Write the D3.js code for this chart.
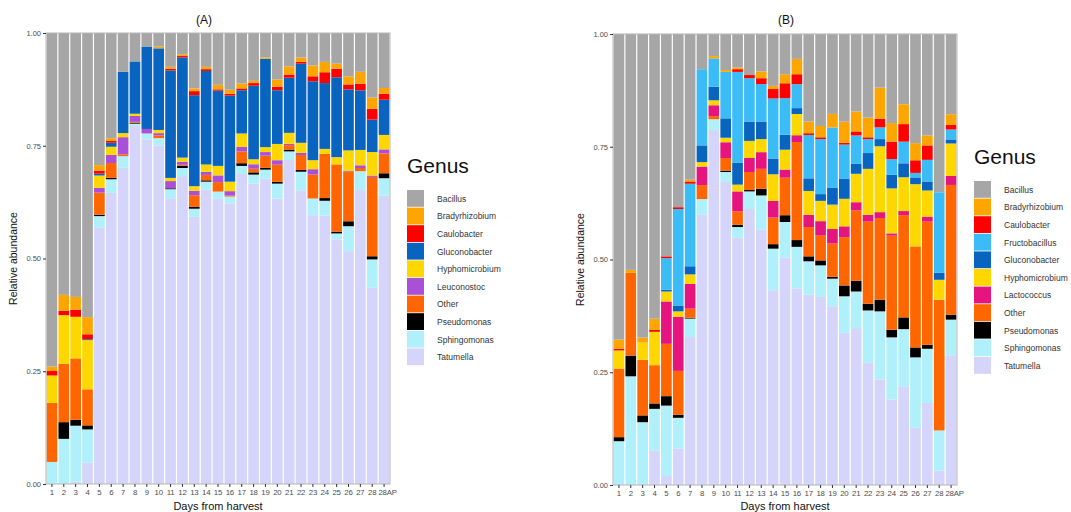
<!DOCTYPE html>
<html>
<head>
<title>Relative abundance by genus</title>
<meta charset="utf-8">
<style type="text/css">
body { margin: 0; background: #fff; font-family: "Liberation Sans", Arial, sans-serif; }
svg text { font-family: "Liberation Sans", Arial, sans-serif; }
.tick text { fill: #4d4d4d; }
.tick line { stroke: #333; }
</style>
</head>
<body>
<svg id="chart"></svg>

<script src="https://d3js.org/d3.v7.min.js"></script>
<script type="text/javascript">
const WIDTH = 1071;
const HEIGHT = 512;

const days = ["1","2","3","4","5","6","7","8","9","10","11","12","13","14","15","16","17","18","19","20",
              "21","22","23","24","25","26","27","28","28AP"];

// panel (A), genera from bottom of the stack to the top
const genusA = ["Tatumella","Sphingomonas","Pseudomonas","Other","Leuconostoc","Hyphomicrobium",
                "Gluconobacter","Caulobacter","Bradyrhizobium","Bacillus"];
const aTatumella      = [0,0,0.005,0.047,0.568,0.645,0.701,0.794,0.765,0.751,0.633,0.682,0.593,0.651,0.633,0.623,0.688,0.666,0.677,0.633,0.717,0.650,0.596,0.595,0.542,0.516,0.651,0.435,0.639];
const aSphingomonas   = [0.049,0.100,0.124,0.074,0.026,0.030,0.026,0.005,0.013,0.016,0.020,0.018,0.018,0.018,0.016,0.015,0.018,0.020,0.020,0.033,0.019,0.041,0.037,0.033,0.013,0.055,0.042,0.063,0.039];
const aPseudomonas    = [0,0.037,0.013,0.009,0.003,0.003,0,0.002,0,0,0.002,0.005,0.004,0.003,0,0,0.006,0.005,0.004,0.004,0.004,0.004,0,0.006,0.004,0.011,0,0.007,0.011];
const aOther          = [0.131,0.129,0.136,0.080,0.049,0.033,0.004,0.002,0,0.006,0,0.002,0.026,0.012,0.021,0.002,0.026,0.008,0.027,0.038,0.010,0.033,0.053,0.098,0.149,0.109,0.007,0.176,0.044];
const aLeuconostoc    = [0,0,0,0,0.011,0.018,0.038,0.013,0.010,0.005,0.016,0.007,0.010,0.007,0.015,0.010,0.010,0.010,0.008,0.010,0.003,0.005,0.012,0,0,0.002,0.006,0.003,0.009];
const aHyphomicrobium = [0.061,0.108,0.092,0.109,0.027,0.018,0.009,0.005,0,0.007,0.007,0.009,0.010,0.016,0.021,0.021,0.030,0.011,0.011,0.036,0.024,0.022,0.020,0.011,0.016,0.046,0.034,0.052,0.032];
const aGluconobacter  = [0,0,0,0.002,0.004,0.009,0.136,0.116,0.183,0.181,0.238,0.222,0.202,0.207,0.167,0.191,0.096,0.163,0.196,0.119,0.122,0.175,0.175,0.146,0.177,0.135,0.132,0.072,0.078];
const aCaulobacter    = [0.010,0.010,0.016,0.011,0.007,0.004,0,0,0,0,0.004,0.003,0.009,0.004,0.003,0.004,0.004,0.006,0,0.008,0.007,0.004,0.011,0.024,0.019,0.011,0.015,0.024,0.013];
const aBradyrhizobium = [0.010,0.035,0.028,0.038,0.012,0.006,0,0,0,0.004,0.004,0.004,0.006,0.005,0.010,0.009,0.011,0.005,0.003,0.016,0.018,0.010,0.024,0.023,0.011,0.018,0.026,0.025,0.013];
const aBacillus       = [0.741,0.580,0.584,0.630,0.293,0.233,0.086,0.063,0.030,0.030,0.075,0.047,0.123,0.075,0.115,0.126,0.112,0.106,0.054,0.103,0.074,0.054,0.072,0.064,0.068,0.096,0.086,0.143,0.122];

// panel (B)
const genusB = ["Tatumella","Sphingomonas","Pseudomonas","Other","Lactococcus","Hyphomicrobium",
                "Gluconobacter","Fructobacillus","Caulobacter","Bradyrhizobium","Bacillus"];
const bTatumella      = [0,0,0,0.077,0.020,0.081,0.328,0.599,0.787,0.672,0.548,0.612,0.566,0.432,0.503,0.435,0.422,0.417,0.396,0.337,0.348,0.271,0.234,0.190,0.219,0.127,0.182,0.032,0.288];
const bSphingomonas   = [0.097,0.241,0.139,0.092,0.156,0.068,0.041,0.035,0.024,0.022,0.024,0.039,0.076,0.092,0.079,0.092,0.074,0.070,0.061,0.081,0.081,0.116,0.151,0.138,0.127,0.156,0.120,0.089,0.079];
const bPseudomonas    = [0.009,0.046,0.015,0.012,0.021,0.007,0.002,0,0,0.003,0.005,0.003,0.015,0.010,0.015,0.015,0.011,0.011,0.004,0.024,0.024,0.015,0.026,0.017,0.026,0.022,0.009,0,0.011];
const bOther          = [0.152,0.184,0.123,0.085,0.116,0.097,0.020,0.031,0.007,0.028,0.030,0.040,0.044,0.059,0.083,0.217,0.065,0.055,0.074,0.107,0.156,0.182,0.181,0.209,0.227,0.224,0.273,0.290,0.288];
const bLactococcus    = [0,0,0,0,0.094,0.120,0.055,0.041,0.024,0.035,0.044,0.031,0.037,0.037,0.018,0.015,0.027,0.032,0.032,0.024,0.018,0.015,0.013,0.005,0.009,0,0.011,0,0.020];
const bHyphomicrobium = [0.040,0,0.038,0.074,0.022,0.012,0.021,0.010,0.011,0.010,0.015,0.038,0.029,0.059,0.044,0.047,0.053,0.045,0.054,0.061,0.063,0.102,0.146,0.100,0.075,0.138,0.058,0.044,0.072];
const bGluconobacter  = [0,0,0,0,0.004,0.013,0.018,0.037,0.030,0.043,0.049,0.043,0.039,0.035,0.033,0.013,0.028,0.015,0.037,0.044,0.022,0.035,0.016,0.030,0.031,0.015,0.020,0.016,0.009];
const bFructobacillus = [0,0,0,0,0.070,0.214,0.183,0.169,0.063,0.103,0.201,0.096,0.083,0.133,0.081,0.053,0.096,0.122,0.134,0.076,0.063,0.031,0.026,0.035,0.048,0.010,0.048,0.178,0.022];
const bCaulobacter    = [0.004,0,0,0.004,0.004,0.004,0.005,0,0,0,0.006,0.007,0.013,0.021,0.033,0.022,0.004,0.004,0,0.004,0.009,0.004,0.019,0.039,0.039,0.028,0.032,0,0.010];
const bBradyrhizobium = [0.020,0.006,0.011,0.025,0,0,0.004,0,0.005,0.004,0.004,0,0.015,0.007,0.020,0.034,0.026,0.025,0.030,0.047,0.044,0.044,0.069,0.041,0.044,0.038,0.022,0,0.024];
const bBacillus       = [0.677,0.523,0.672,0.632,0.493,0.384,0.323,0.078,0.049,0.080,0.074,0.091,0.083,0.115,0.089,0.055,0.194,0.204,0.177,0.194,0.172,0.185,0.119,0.198,0.156,0.242,0.225,0.351,0.178];

const yTicks = [0, 0.25, 0.5, 0.75, 1];

const COLORS = {
    Bacillus: "#a6a6a6", Bradyrhizobium: "#ffa500", Caulobacter: "#ff0000",
    Fructobacillus: "#3bbcf7", Gluconobacter: "#0864bf", Hyphomicrobium: "#ffd700",
    Lactococcus: "#e6147f", Leuconostoc: "#aa4fd8", Other: "#ff6600",
    Pseudomonas: "#000000", Sphingomonas: "#b0f0fb", Tatumella: "#d5d5fb"
};

const seriesA = {Tatumella: aTatumella, Sphingomonas: aSphingomonas, Pseudomonas: aPseudomonas,
    Other: aOther, Leuconostoc: aLeuconostoc, Hyphomicrobium: aHyphomicrobium,
    Gluconobacter: aGluconobacter, Caulobacter: aCaulobacter, Bradyrhizobium: aBradyrhizobium,
    Bacillus: aBacillus};
const seriesB = {Tatumella: bTatumella, Sphingomonas: bSphingomonas, Pseudomonas: bPseudomonas,
    Other: bOther, Lactococcus: bLactococcus, Hyphomicrobium: bHyphomicrobium,
    Gluconobacter: bGluconobacter, Fructobacillus: bFructobacillus, Caulobacter: bCaulobacter,
    Bradyrhizobium: bBradyrhizobium, Bacillus: bBacillus};

const svg = d3.select("#chart")
    .attr("width", WIDTH)
    .attr("height", HEIGHT)
    .attr("viewBox", [0, 0, WIDTH, HEIGHT]);

function drawPanel(p) {
    const rows = days.map((d, i) => {
        const r = {day: d};
        p.genus.forEach(g => r[g] = p.series[g][i]);
        return r;
    });
    const stacked = d3.stack().keys(p.genus).offset(d3.stackOffsetExpand)(rows);

    const x = d3.scaleBand().domain(days)
        .range([p.left, p.right]).paddingInner(0.1).paddingOuter(0.05);
    const y = d3.scaleLinear().domain([0, 1]).range([p.bottom, p.top]);

    const g = svg.append("g");

    // bars
    g.selectAll("g.layer").data(stacked).join("g")
        .attr("class", "layer")
        .attr("fill", s => COLORS[s.key])
        .selectAll("rect").data(s => s).join("rect")
        .attr("x", d => x(d.data.day))
        .attr("width", x.bandwidth())
        .attr("y", d => y(d[1]))
        .attr("height", d => Math.max(0, y(d[0]) - y(d[1])));

    // panel border
    g.append("rect")
        .attr("x", p.left).attr("y", p.top)
        .attr("width", p.right - p.left).attr("height", p.bottom - p.top)
        .attr("fill", "none").attr("stroke", "#b5b5b5").attr("stroke-width", 1);

    // axes
    const ax = g.append("g")
        .attr("transform", `translate(0,${p.bottom})`)
        .call(d3.axisBottom(x).tickSize(3).tickPadding(2));
    ax.select(".domain").remove();
    ax.selectAll("text")
        .attr("font-size", 7.8).attr("letter-spacing", -0.2).attr("fill", "#333")
        .attr("dx", d => d === "28AP" ? 3.5 : 0);

    const ay = g.append("g")
        .attr("transform", `translate(${p.left},0)`)
        .call(d3.axisLeft(y).tickValues(yTicks).tickFormat(d3.format(".2f")).tickSize(3).tickPadding(2));
    ay.select(".domain").remove();
    ay.selectAll("text").attr("font-size", 7.5);

    // titles
    g.append("text")
        .attr("x", p.titleX).attr("y", 24)
        .attr("text-anchor", "middle").attr("font-size", 12).attr("fill", "#111")
        .text(p.title);
    g.append("text")
        .attr("x", (p.left + p.right) / 2).attr("y", 510)
        .attr("text-anchor", "middle").attr("font-size", 11).attr("fill", "#111")
        .text("Days from harvest");
    g.append("text")
        .attr("transform", `translate(${p.left - 29},${(p.top + p.bottom) / 2}) rotate(-90)`)
        .attr("text-anchor", "middle").attr("font-size", 10.5).attr("fill", "#111")
        .text("Relative abundance");

    // legend, listed top to bottom alphabetically
    const legendItems = p.genus.slice().reverse();
    const step = 17.6;
    const lg = g.append("g")
        .attr("transform", `translate(${p.right + 17},${p.legendTop})`);
    lg.append("text")
        .attr("x", 0).attr("y", -17)
        .attr("font-size", 21).attr("fill", "#111")
        .text("Genus");
    const item = lg.selectAll("g.item").data(legendItems).join("g")
        .attr("class", "item")
        .attr("transform", (d, i) => `translate(0,${i * step})`);
    item.append("rect")
        .attr("width", 17).attr("height", step - 0.8)
        .attr("fill", d => COLORS[d]);
    item.append("text")
        .attr("x", 30).attr("y", step / 2)
        .attr("dy", "0.35em")
        .attr("font-size", 8.5).attr("fill", "#333")
        .text(d => d);
}

drawPanel({title: "(A)", titleX: 204, genus: genusA, series: seriesA,
    left: 46, right: 390, top: 33, bottom: 484, legendTop: 190});
drawPanel({title: "(B)", titleX: 786, genus: genusB, series: seriesB,
    left: 613, right: 957, top: 34, bottom: 485, legendTop: 181});
</script>
</body>
</html>
